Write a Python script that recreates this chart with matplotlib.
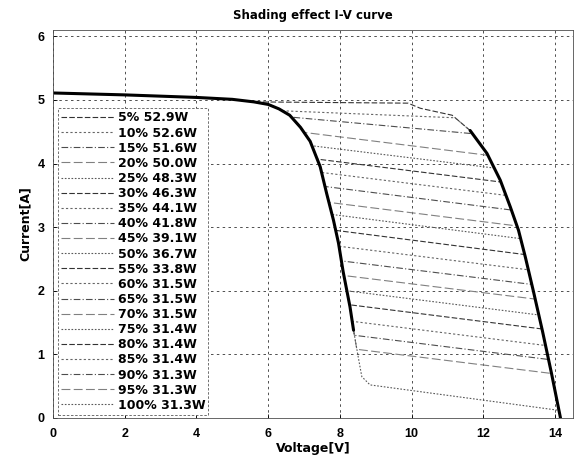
import numpy as np
import matplotlib
matplotlib.use('Agg')
import matplotlib.pyplot as plt

# shading in % and max power from the legend
shading = [5, 10, 15, 20, 25, 30, 35, 40, 45, 50, 55, 60, 65, 70, 75, 80, 85, 90, 95, 100]
pmax = [52.9, 52.6, 51.6, 50.0, 48.3, 46.3, 44.1, 41.8, 39.1, 36.7,
        33.8, 31.5, 31.5, 31.5, 31.4, 31.4, 31.4, 31.3, 31.3, 31.3]

# first part, shared by all curves (shaded string bypassed)
left_v = [0, 2, 4, 5, 5.6, 6.0, 6.3, 6.6, 6.9, 7.17, 7.45, 7.63, 7.82, 7.96, 8.09, 8.28, 8.38, 8.51, 8.61]
left_i = [5.11, 5.08, 5.04, 5.01, 4.97, 4.93, 4.86, 4.76, 4.57, 4.35, 3.95, 3.53, 3.11, 2.75, 2.30, 1.75, 1.38, 0.96, 0.65]
# last part, down to open circuit voltage
right_v = [10.24, 11.13, 11.63, 12.1, 12.47, 12.75, 12.98, 13.17, 13.4, 13.65, 13.9, 14.15]
right_i = [4.87, 4.76, 4.52, 4.16, 3.74, 3.32, 2.95, 2.53, 1.98, 1.36, 0.70, 0.0]

# start / end of the step of each curve
step_v1 = [5.6, 6.39, 6.65, 7.0, 7.22, 7.37, 7.49, 7.58, 7.69, 7.78,
           7.88, 7.975, 8.04, 8.11, 8.195, 8.27, 8.34, 8.405, 8.47, 8.84]
step_i1 = [4.97, 4.83, 4.73, 4.49, 4.28, 4.07, 3.86, 3.64, 3.39, 3.20,
           2.95, 2.70, 2.47, 2.24, 2.00, 1.78, 1.52, 1.30, 1.08, 0.52]
step_v2 = [9.9, 11.21, 11.70, 12.13, 12.30, 12.49, 12.63, 12.78, 12.93, 13.04,
           13.15, 13.25, 13.35, 13.44, 13.545, 13.634, 13.733, 13.817, 13.9, 14.11]
step_i2 = [4.95, 4.72, 4.47, 4.13, 3.93, 3.71, 3.50, 3.27, 3.02, 2.82,
           2.57, 2.33, 2.10, 1.87, 1.62, 1.40, 1.14, 0.92, 0.70, 0.12]

styles = [(0, (5, 2)), (0, (2, 2)), (0, (6, 2, 1, 2)), (0, (8, 3)), (0, (1.5, 1.5))]
greys = ['0.2', '0.4', '0.3', '0.5', '0.35']

fig = plt.figure(figsize=(5.8, 4.61), dpi=100)
ax = fig.add_axes([0.0914, 0.0933, 0.8966, 0.8416])

lv = np.array(left_v)
li = np.array(left_i)
rv = np.array(right_v)
ri = np.array(right_i)

for k in range(len(shading)):
    m1 = li > step_i1[k]
    m2 = ri < step_i2[k]
    v = np.concatenate([lv[m1], [step_v1[k], step_v2[k]], rv[m2]])
    i = np.concatenate([li[m1], [step_i1[k], step_i2[k]], ri[m2]])
    ax.plot(v, i, color=greys[k % 5], lw=0.8, linestyle=styles[k % 5],
            label='%d%% %.1fW' % (shading[k], pmax[k]))

# overlapping parts look heavy on the original
ax.plot(lv[li >= 1.38], li[li >= 1.38], color='k', lw=2.2, solid_capstyle='round')
ax.plot(rv[ri <= 4.52], ri[ri <= 4.52], color='k', lw=2.2, solid_capstyle='round')

ax.set_xlim(0, 14.5)
ax.set_ylim(0, 6.1)
ax.set_xticks(range(0, 15, 2))
ax.set_yticks(range(0, 7))
ax.grid(True, color='0.2', lw=0.6, linestyle=(0, (3, 4)))
ax.tick_params(direction='in', length=3, width=0.6)
ax.tick_params(axis='x', pad=7)
ax.tick_params(axis='y', pad=6)
for lab in ax.get_xticklabels() + ax.get_yticklabels():
    lab.set_fontfamily('Liberation Sans')
    lab.set_fontweight('bold')
    lab.set_fontsize(9)
for sp in ax.spines.values():
    sp.set_linewidth(0.6)
    sp.set_color('0.3')

ax.set_title('Shading effect I-V curve', fontsize=8.5, fontweight='bold',
             family='DejaVu Sans', pad=8)
ax.set_xlabel('Voltage[V]', fontsize=9, fontweight='bold', family='DejaVu Sans', labelpad=2)
ax.set_ylabel('Current[A]', fontsize=9, fontweight='bold', family='DejaVu Sans', labelpad=4)

leg = ax.legend(loc='lower left', bbox_to_anchor=(0.01, 0.008), borderaxespad=0,
                prop={'family': 'DejaVu Sans', 'weight': 'bold', 'size': 9},
                handlelength=4.2, handletextpad=0.3, borderpad=0.25,
                labelspacing=0.17, fancybox=False, framealpha=1)
leg.get_frame().set_edgecolor('0.35')
leg.get_frame().set_linewidth(0.6)
leg.get_frame().set_linestyle((0, (3, 2)))

fig.savefig('out.png', dpi=100)
